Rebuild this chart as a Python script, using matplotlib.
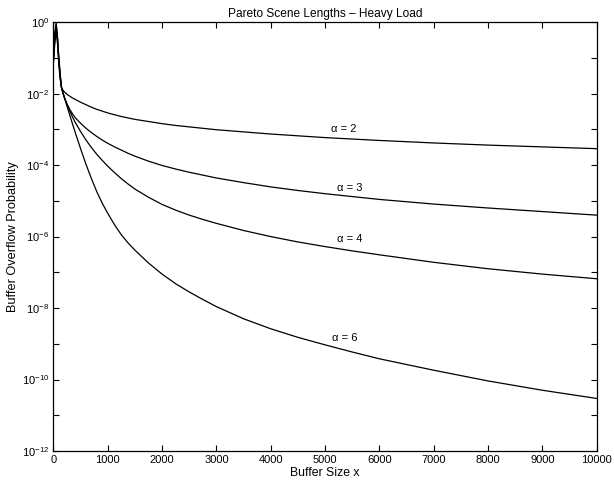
import matplotlib
matplotlib.use("Agg")
import matplotlib.pyplot as plt
import numpy as np

plt.rcParams['font.family'] = ['Liberation Sans', 'DejaVu Sans']
plt.rcParams['mathtext.fontset'] = 'custom'
plt.rcParams['mathtext.rm'] = 'Liberation Sans'
plt.rcParams['mathtext.it'] = 'Liberation Sans:italic'
plt.rcParams['mathtext.bf'] = 'Liberation Sans:bold'

# ---- data ----
buffer_x = [0, 25, 50, 75, 100, 125, 150, 175, 200, 250, 300, 350, 400, 500, 600,
            700, 800, 900, 1000, 1125, 1250, 1375, 1500, 1750, 2000, 2250, 2500,
            2750, 3000, 3500, 4000, 4500, 5000, 5500, 6000, 7000, 8000, 9000, 10000]

# log10 of overflow probability
log_p_alpha2 = [-1.15, -0.60, -0.25, -0.60, -1.20, -1.60, -1.84, -1.90, -1.95, -2.02,
                -2.07, -2.12, -2.16, -2.24, -2.31, -2.38, -2.44, -2.49, -2.54, -2.59,
                -2.64, -2.68, -2.72, -2.78, -2.84, -2.89, -2.93, -2.97, -3.01, -3.07,
                -3.13, -3.18, -3.23, -3.27, -3.31, -3.38, -3.44, -3.49, -3.54]
log_p_alpha3 = [-1.10, -0.50, -0.10, -0.50, -1.10, -1.55, -1.84, -1.98, -2.10, -2.29,
                -2.44, -2.56, -2.67, -2.83, -2.97, -3.09, -3.20, -3.30, -3.39, -3.49,
                -3.58, -3.67, -3.75, -3.89, -4.01, -4.11, -4.20, -4.28, -4.36, -4.49,
                -4.61, -4.71, -4.80, -4.88, -4.96, -5.09, -5.20, -5.30, -5.40]
log_p_alpha4 = [-1.05, -0.40, -0.05, -0.45, -1.05, -1.50, -1.84, -1.97, -2.10, -2.30,
                -2.48, -2.65, -2.80, -3.06, -3.30, -3.51, -3.70, -3.87, -4.03, -4.21,
                -4.38, -4.53, -4.67, -4.90, -5.10, -5.26, -5.40, -5.52, -5.63, -5.83,
                -6.00, -6.15, -6.28, -6.40, -6.51, -6.72, -6.90, -7.05, -7.18]
log_p_alpha6 = [-1.00, -0.30, -0.02, -0.40, -1.00, -1.45, -1.84, -1.97, -2.10, -2.35,
                -2.60, -2.84, -3.08, -3.54, -3.98, -4.38, -4.75, -5.07, -5.35, -5.67,
                -5.95, -6.18, -6.38, -6.74, -7.05, -7.32, -7.55, -7.76, -7.96, -8.30,
                -8.58, -8.82, -9.03, -9.23, -9.42, -9.74, -10.04, -10.30, -10.53]

series_labels = ['α = 2', 'α = 3', 'α = 4', 'α = 6']
label_x = [5340, 5457, 5457, 5370]
label_log_y = [-3.00, -4.63, -6.08, -8.85]

x_ticks = [0, 1000, 2000, 3000, 4000, 5000, 6000, 7000, 8000, 9000, 10000]
y_exponents = list(range(-12, 1))

title = 'Pareto Scene Lengths \u2013 Heavy Load'
xlabel = 'Buffer Size x'
ylabel = 'Buffer Overflow Probability'

# ---- figure ----
fig = plt.figure(figsize=(6.14, 4.82), dpi=100)
ax = fig.add_axes([0.087, 0.0643, 0.885, 0.8897])

for lp in [log_p_alpha2, log_p_alpha3, log_p_alpha4, log_p_alpha6]:
    ax.semilogy(buffer_x, np.power(10.0, lp), color='black', linewidth=0.9)

for lab, lx, ly in zip(series_labels, label_x, label_log_y):
    ax.text(lx, 10.0 ** ly, lab, ha='center', va='center', fontsize=8)

ax.set_xlim(0, 10000)
ax.set_ylim(1e-12, 1e0)
ax.set_xticks(x_ticks)
ax.set_xticklabels([str(t) for t in x_ticks])
ax.set_yticks([10.0 ** e for e in y_exponents])
ax.set_yticklabels([r'$10^{%d}$' % e if e % 2 == 0 else '' for e in y_exponents])
ax.yaxis.set_minor_locator(matplotlib.ticker.NullLocator())

ax.tick_params(axis='both', which='both', direction='in', top=True, right=True,
               length=4, width=0.8, labelsize=8, pad=3)
for sp in ax.spines.values():
    sp.set_linewidth(0.9)

ax.set_title(title, fontsize=8.6, pad=4)
ax.set_xlabel(xlabel, fontsize=8.8, labelpad=1)
ax.set_ylabel(ylabel, fontsize=9.2, labelpad=2)

fig.savefig('out.png', dpi=100)
